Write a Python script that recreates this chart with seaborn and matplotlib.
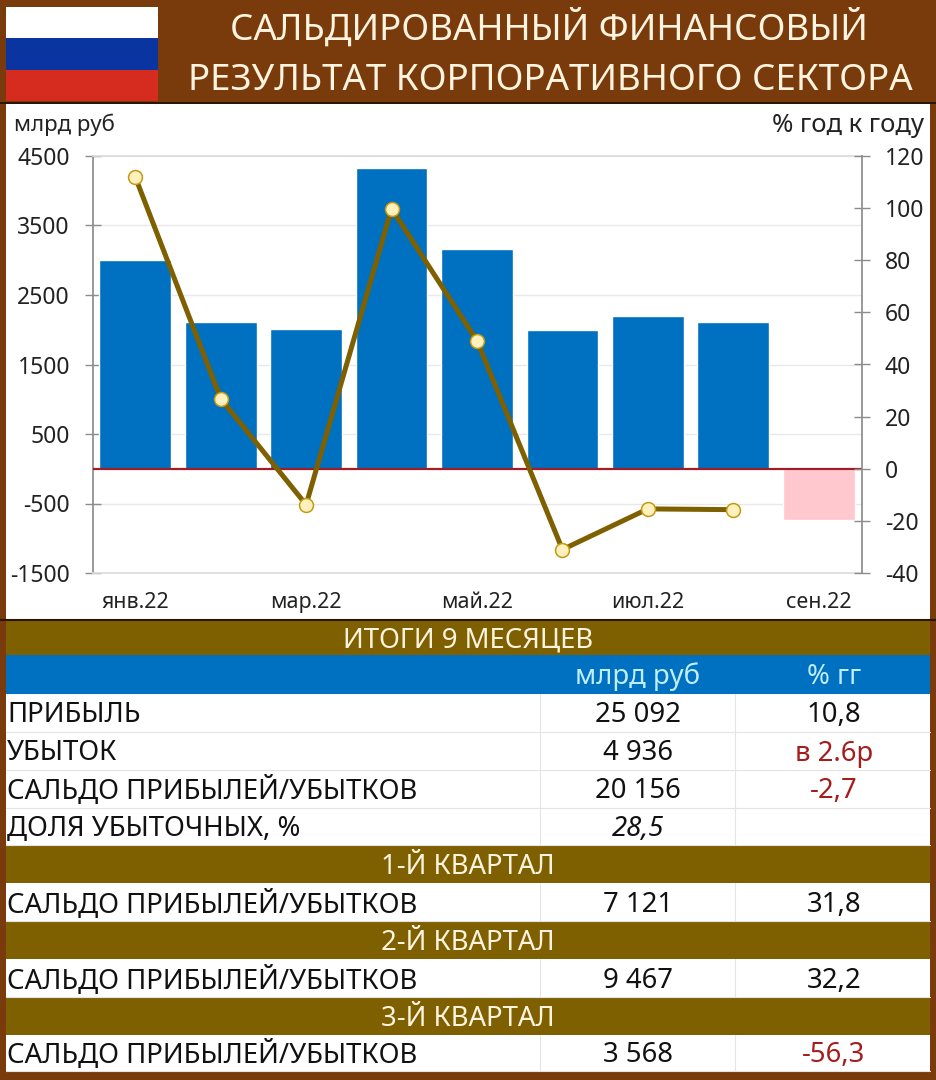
import matplotlib
matplotlib.use("Agg")
import matplotlib.pyplot as plt
from matplotlib.patches import Rectangle
import numpy as np
import pandas as pd
import seaborn as sns

months = ["янв.22", "фев.22", "мар.22", "апр.22", "май.22", "июн.22", "июл.22", "авг.22", "сен.22"]
balance = [3000, 2110, 2010, 4330, 3165, 2000, 2195, 2110, -734]
yoy = [112, 26.9, -13.8, 99.8, 49.1, -31, -15.4, -15.7]

left_ticks = [4500, 3500, 2500, 1500, 500, -500, -1500]
right_ticks = [120, 100, 80, 60, 40, 20, 0, -20, -40]

title_lines = ["САЛЬДИРОВАННЫЙ ФИНАНСОВЫЙ", "РЕЗУЛЬТАТ КОРПОРАТИВНОГО СЕКТОРА"]
flag_colors = ["#FFFFFF", "#0A35A0", "#D62B1F"]

# kind, label, value, yoy, y from, y to
table_rows = [
    ("band", "ИТОГИ 9 МЕСЯЦЕВ", "", "", 620, 655),
    ("head", "", "млрд руб", "% гг", 655, 694),
    ("row", "ПРИБЫЛЬ", "25 092", "10,8", 694, 732),
    ("row", "УБЫТОК", "4 936", "в 2.6р", 732, 770),
    ("row", "САЛЬДО ПРИБЫЛЕЙ/УБЫТКОВ", "20 156", "-2,7", 770, 808),
    ("row", "ДОЛЯ УБЫТОЧНЫХ, %", "28,5", "", 808, 845),
    ("band", "1-Й КВАРТАЛ", "", "", 845, 883),
    ("row", "САЛЬДО ПРИБЫЛЕЙ/УБЫТКОВ", "7 121", "31,8", 883, 921),
    ("band", "2-Й КВАРТАЛ", "", "", 921, 959),
    ("row", "САЛЬДО ПРИБЫЛЕЙ/УБЫТКОВ", "9 467", "32,2", 959, 997),
    ("band", "3-Й КВАРТАЛ", "", "", 997, 1035),
    ("row", "САЛЬДО ПРИБЫЛЕЙ/УБЫТКОВ", "3 568", "-56,3", 1035, 1071),
]
red_cells = ["в 2.6р", "-2,7", "-56,3"]

BROWN = "#7A3B0C"
OLIVE = "#7F6000"
BLUE = "#0070C0"
PINK = "#FFC7CE"
CREAM = "#FFF4DF"
TABLE_SIZE = 19.8

sns.set_theme(style="white")
plt.rcParams["font.family"] = ["Noto Sans", "DejaVu Sans"]
plt.rcParams["axes.unicode_minus"] = False

W, H = 936, 1080
fig = plt.figure(figsize=(W / 100, H / 100), dpi=100, facecolor=BROWN)

# background layer in pixel coordinates
bg = fig.add_axes([0, 0, 1, 1], zorder=0)
bg.set_xlim(0, W)
bg.set_ylim(H, 0)
bg.axis("off")

for i, c in enumerate(flag_colors):
    bg.add_patch(Rectangle((6, 7 + i * 31.3), 152, 31.3, color=c, lw=0))
bg.plot([0, W], [103, 103], color="#1A1008", lw=1.2)
bg.add_patch(Rectangle((6, 104), 924, 515, color="white", lw=0))
bg.plot([0, W], [619.5, 619.5], color="#2A1605", lw=1.5)

bg.text(549, 29, title_lines[0], color=CREAM, fontsize=26.4, ha="center", va="center")
bg.text(550, 81.5, title_lines[1], color=CREAM, fontsize=26.4, ha="center", va="center")
bg.text(14, 125, "млрд руб", color="#222222", fontsize=16, va="center")
bg.text(924, 125, "% год к году", color="#222222", fontsize=18.5, va="center", ha="right")

for kind, label, value, change, y0, y1 in table_rows:
    mid = (y0 + y1) / 2 + 2.5
    if kind == "band":
        bg.add_patch(Rectangle((6, y0), 924, y1 - y0, color=OLIVE, lw=0))
        bg.text(468, mid, label, color=CREAM, fontsize=TABLE_SIZE, ha="center", va="center")
    elif kind == "head":
        bg.add_patch(Rectangle((6, y0), 924, y1 - y0, color=BLUE, lw=0))
        bg.text(638, mid, value, color="#BFEFFF", fontsize=TABLE_SIZE, ha="center", va="center")
        bg.text(834, mid, change, color="#BFEFFF", fontsize=TABLE_SIZE, ha="center", va="center")
    else:
        bg.add_patch(Rectangle((6, y0), 924, y1 - y0, color="white", lw=0))
        bg.plot([6, 930], [y1, y1], color="#E4E4E4", lw=0.8)
        bg.plot([540, 540], [y0, y1], color="#E4E4E4", lw=0.8)
        bg.plot([735, 735], [y0, y1], color="#E4E4E4", lw=0.8)
        bg.text(7, mid, label, color="#111111", fontsize=TABLE_SIZE, va="center")
        style = "italic" if label.startswith("ДОЛЯ") else "normal"
        bg.text(638, mid, value, color="#111111", fontsize=TABLE_SIZE, ha="center", va="center", style=style)
        bg.text(834, mid, change, color="#A61C1C" if change in red_cells else "#111111",
                fontsize=TABLE_SIZE, ha="center", va="center")

# chart
ax = fig.add_axes([92.5 / W, 1 - 573 / H, (861.5 - 92.5) / W, (573 - 156) / H], zorder=1)
ax.patch.set_alpha(0)
df = pd.DataFrame({"month": months, "balance": balance})
bar_colors = [BLUE if v > 0 else PINK for v in balance]
ax.set_ylim(-1500, 4500)
ax.yaxis.grid(True, color="#E8E8E8", lw=1)
ax.set_axisbelow(True)
sns.barplot(data=df, x="month", y="balance", hue="month", palette=bar_colors,
            legend=False, width=0.84, saturation=1, ax=ax)
ax.axhline(0, color="#A01C28", lw=1.6, zorder=3)
ax.set_xlim(-0.5, len(months) - 0.5)
ax.set_ylim(-1500, 4500)
ax.set_yticks(left_ticks)
ax.set_xticks(np.arange(len(months))[::2])
ax.set_xticklabels(months[::2])
ax.set_xlabel("")
ax.set_ylabel("")
ax.tick_params(axis="y", direction="inout", length=11.5, width=1, color="#8C8C8C",
               labelsize=16.5, labelcolor="#222222", pad=10.5, left=True)
ax.tick_params(axis="x", length=0, labelsize=15.4, labelcolor="#222222", pad=13.5)
ax.spines["top"].set_color("#DDDDDD")
ax.spines["bottom"].set_color("#DDDDDD")
ax.spines["left"].set_color("#8C8C8C")
ax.spines["right"].set_visible(False)

ax2 = ax.twinx()
ax2.patch.set_alpha(0)
sns.lineplot(x=np.arange(len(yoy)), y=yoy, ax=ax2, color=OLIVE, lw=3.6, marker="o", markersize=10,
             markerfacecolor="#FFF0BE", markeredgecolor="#C49A10", markeredgewidth=1.1, zorder=5)
ax2.set_xlim(-0.5, len(months) - 0.5)
ax2.set_ylim(-40, 120)
ax2.set_yticks(right_ticks)
ax2.tick_params(axis="y", direction="inout", length=11.5, width=1, color="#8C8C8C",
                labelsize=16.5, labelcolor="#222222", pad=11, right=True)
for s in ["top", "bottom", "left"]:
    ax2.spines[s].set_visible(False)
ax2.spines["right"].set_color("#8C8C8C")

fig.savefig("out.png", dpi=100, facecolor=BROWN)
